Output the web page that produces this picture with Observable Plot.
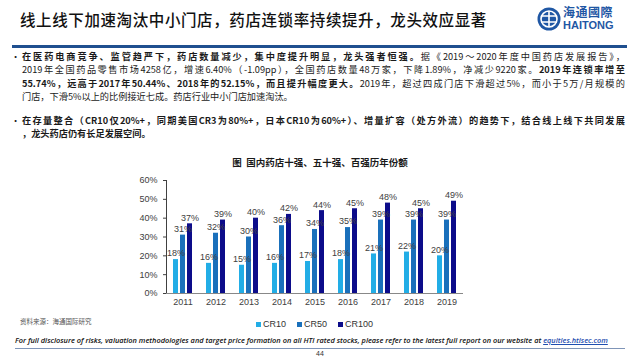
<!DOCTYPE html>
<html><head><meta charset="utf-8">
<script src="https://cdn.jsdelivr.net/npm/d3@7"></script>
<script src="https://cdn.jsdelivr.net/npm/@observablehq/plot@0.6"></script>
<style>
body{margin:0;width:640px;height:360px;position:relative;background:#fff;overflow:hidden;font-family:"Noto Sans CJK SC",sans-serif;color:#1a1a1a;}
.abs{position:absolute;white-space:nowrap;}
.ln{position:absolute;left:22px;width:603px;font-size:9.2px;line-height:12px;text-align:justify;text-align-last:justify;white-space:nowrap;}
.ln.last{text-align-last:left;}
.bul{position:absolute;left:11px;font-size:9.2px;line-height:12px;}
div .lg-swatches{margin:0 !important;min-height:0 !important;}
div .lg-swatch{margin-right:11px !important;}
div .lg-swatch > svg{margin-right:2px !important;}
</style></head><body>

<div class="abs" style="left:20px;top:8px;font-size:15.5px;font-weight:500;letter-spacing:0.6px;color:#111;">线上线下加速淘汰中小门店，药店连锁率持续提升，龙头效应显著</div>

<svg class="abs" style="left:536px;top:6px" width="26" height="26" viewBox="0 0 26 26">
  <circle cx="13" cy="13" r="11.5" fill="#1f57a4"/>
  <circle cx="13" cy="13" r="8" fill="none" stroke="#fff" stroke-width="1.6"/>
  <path d="M5 10 H21 M5 16 H21 M13 5 V21" stroke="#fff" stroke-width="1.6"/>
</svg>
<div class="abs" style="left:563px;top:6px;font-size:12px;line-height:12px;font-weight:700;color:#1f57a4;letter-spacing:0.5px;">海通國際</div>
<div class="abs" style="left:563px;top:20px;font-size:11px;line-height:11px;font-weight:700;color:#1f57a4;font-family:'Liberation Sans',Arial,sans-serif;">HAITONG</div>

<div class="abs" style="left:12px;top:45px;width:615px;height:3px;background:#1f4f8f;"></div>

<div class="bul" style="top:50px;">•</div>
<div class="ln" style="top:50px;"><b>在医药电商竞争、监管趋严下，药店数量减少，集中度提升明显，龙头强者恒强。</b>据《2019～2020年度中国药店发展报告》，</div>
<div class="ln" style="top:63.4px;">2019年全国药品零售市场4258亿，增速6.40%（-1.09pp），全国药店数量48万家，下降1.89%，净减少9220家。<b>2019年连锁率增至</b></div>
<div class="ln" style="top:76.8px;"><b>55.74%，远高于2017年50.44%、2018年的52.15%，而且提升幅度更大。</b>2019年，超过四成门店下滑超过5%，而小于5万/月规模的</div>
<div class="ln last" style="top:90.2px;">门店，下滑5%以上的比例接近七成。药店行业中小门店加速淘汰。</div>

<div class="bul" style="top:113.5px;">•</div>
<div class="ln" style="top:113.5px;"><b>在存量整合（CR10仅20%+，同期美国CR3为80%+，日本CR10为60%+）、增量扩容（处方外流）的趋势下，结合线上线下共同发展</b></div>
<div class="ln last" style="top:127px;"><b>，龙头药店仍有长足发展空间。</b></div>

<div class="abs" style="left:0;width:640px;top:155px;text-align:center;font-size:9.5px;font-weight:700;">图&nbsp;&nbsp;国内药店十强、五十强、百强历年份额</div>

<div id="chart" class="abs" style="left:130px;top:170px;"></div>
<div id="legend" class="abs" style="left:0;width:640px;top:317px;height:14px;display:flex;justify-content:center;align-items:center;"></div>

<div class="abs" style="left:20px;top:316px;font-size:6.5px;color:#555;">资料来源：海通国际研究</div>

<div class="abs" style="left:15px;top:335px;font-size:7.4px;font-style:italic;font-weight:600;font-family:'Open Sans',sans-serif;color:#111;">For full disclosure of risks, valuation methodologies and target price formation on all HTI rated stocks, please refer to the latest full report on our website at <span style="color:#1f4fb0;text-decoration:underline;">equities.htisec.com</span></div>
<div class="abs" style="left:15px;top:348px;width:610px;height:1px;background:#7f95b8;"></div>
<div class="abs" style="left:0;width:640px;top:350px;text-align:center;font-size:7px;color:#333;font-family:'Liberation Sans',Arial,sans-serif;">44</div>

<script>
const years = ["2011","2012","2013","2014","2015","2016","2017","2018","2019"];
const series = ["CR10","CR50","CR100"];
const cr10 = [18,16,15,16,17,18,21,22,20];
const cr50 = [31,32,30,36,34,35,39,39,39];
const cr100 = [37,39,40,42,44,45,48,45,49];
const yTicks = [0,10,20,30,40,50,60];
const colors = ["#22ade6","#1a70bb","#0c0c8a"];

const valuesBySeries = {CR10: cr10, CR50: cr50, CR100: cr100};
const rows = years.flatMap((yr, i) => series.map(s => ({year: yr, series: s, value: valuesBySeries[s][i]})));

const chart = Plot.plot({
  width: 350, height: 145,
  marginLeft: 35, marginRight: 17, marginTop: 10, marginBottom: 22,
  fx: {domain: years, padding: 0, label: null, axis: "bottom", tickSize: 0, tickPadding: 5},
  x: {domain: series, paddingInner: 0.22, paddingOuter: 0.75, axis: null},
  y: {domain: [0, 60], ticks: yTicks, tickFormat: d => d + "%", label: null, tickSize: 3, line: true},
  color: {domain: series, range: colors},
  style: {fontFamily: "'Liberation Sans', Arial, sans-serif", fontSize: "9px", color: "#404040", background: "transparent"},
  marks: [
    Plot.barY(rows, {fx: "year", x: "series", y: "value", fill: "series"}),
    Plot.ruleY([0], {stroke: "#888"}),
    Plot.text(rows, {fx: "year", x: "series", y: "value", text: d => d.value + "%", dy: -6, fill: "#404040"})
  ]
});
document.getElementById("chart").appendChild(chart);

const legend = Plot.legend({
  color: {domain: series, range: colors},
  swatchSize: 5,
  className: "lg",
  style: {fontFamily: "'Liberation Sans', Arial, sans-serif", fontSize: "9px", color: "#333"}
});
document.getElementById("legend").appendChild(legend);
</script>
</body></html>
